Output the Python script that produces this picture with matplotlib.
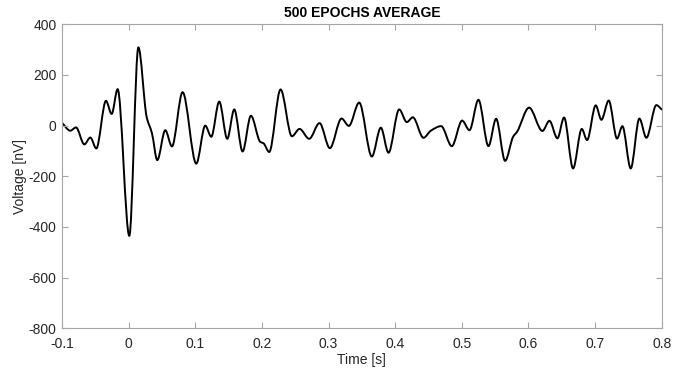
import numpy as np
import matplotlib
matplotlib.use("Agg")
import matplotlib.pyplot as plt
from matplotlib.path import Path
from matplotlib.patches import PathPatch

plt.rcParams['font.family'] = ['Liberation Sans', 'DejaVu Sans']
plt.rcParams['axes.unicode_minus'] = False

# Turning points (and shoulders) of the averaged signal
time_s = [-0.1, -0.0875, -0.079, -0.0665, -0.0575, -0.0485, -0.034, -0.0255, -0.0165,
          0.001, 0.0146, 0.027, 0.035, 0.043, 0.055, 0.065, 0.081, 0.1015, 0.115,
          0.124, 0.136, 0.148, 0.1585, 0.171, 0.1835, 0.1975, 0.2025, 0.211, 0.228,
          0.245, 0.2565, 0.271, 0.2865, 0.302, 0.3195, 0.3305, 0.346, 0.365, 0.3785,
          0.39, 0.406, 0.4175, 0.4265, 0.4425, 0.4535, 0.469, 0.485, 0.5005, 0.5115,
          0.525, 0.54, 0.5515, 0.565, 0.577, 0.583, 0.601, 0.621, 0.6315, 0.6435,
          0.6535, 0.667, 0.68, 0.688, 0.701, 0.7095, 0.7205, 0.733, 0.741, 0.7535,
          0.7665, 0.777, 0.792, 0.8]
voltage_nv = [11, -20, -7, -74, -47, -90, 98, 46, 144,
              -435, 309, 35, -30, -136, -18, -82, 132, -150, 0,
              -44, 95, -52, 64, -102, 39, -64, -70, -104, 143,
              -42, -13, -52, 10, -89, 28, -1, 91, -122, -8,
              -107, 64, 14, 33, -48, -20, -2, -81, 20, -18,
              102, -81, 27, -139, -44, -24, 71, -21, 19, -50,
              32, -169, -13, -57, 80, 23, 99, -51, -2, -169,
              28, -48, 81, 64]

x_ticks = [-0.1, 0, 0.1, 0.2, 0.3, 0.4, 0.5, 0.6, 0.7, 0.8]
x_ticklabels = ['-0.1', '0', '0.1', '0.2', '0.3', '0.4', '0.5', '0.6', '0.7', '0.8']
y_ticks = [-800, -600, -400, -200, 0, 200, 400]
y_ticklabels = ['-800', '-600', '-400', '-200', '0', '200', '400']

fig = plt.figure(figsize=(6.86, 3.68), dpi=100)
ax = fig.add_axes([62 / 686, 1 - 328.3 / 368, (661.7 - 62) / 686, (328.3 - 24.3) / 368])

# smooth curve through the read points (monotone Hermite tangents -> cubic Bezier path)
t = np.asarray(time_s, float)
v = np.asarray(voltage_nv, float)
d = np.diff(v) / np.diff(t)
m = np.zeros_like(v)
for i in range(1, len(v) - 1):
    if d[i - 1] * d[i] > 0:
        m[i] = 2 * d[i - 1] * d[i] / (d[i - 1] + d[i])
m[0] = d[0]
m[-1] = d[-1]
verts = [(t[0], v[0])]
codes = [Path.MOVETO]
for i in range(len(t) - 1):
    h = t[i + 1] - t[i]
    verts += [(t[i] + h / 3, v[i] + m[i] * h / 3),
              (t[i + 1] - h / 3, v[i + 1] - m[i + 1] * h / 3),
              (t[i + 1], v[i + 1])]
    codes += [Path.CURVE4] * 3
ax.add_patch(PathPatch(Path(verts, codes), fill=False, edgecolor='black', lw=1.4,
                       capstyle='round', joinstyle='round'))

ax.set_xlim(-0.1, 0.8)
ax.set_ylim(-800, 400)
ax.set_xticks(x_ticks)
ax.set_xticklabels(x_ticklabels)
ax.set_yticks(y_ticks)
ax.set_yticklabels(y_ticklabels)

spine_col = '#a6a6a6'
for s in ax.spines.values():
    s.set_color(spine_col)
    s.set_linewidth(0.8)
ax.tick_params(direction='in', length=4, width=0.8, color=spine_col,
               top=True, right=True, labelsize=10, labelcolor='#262626')
ax.tick_params(axis='x', pad=6)
ax.tick_params(axis='y', pad=4)

ax.set_xlabel('Time [s]', fontsize=10, color='#262626', labelpad=2)
ax.set_ylabel('Voltage [nV]', fontsize=10, color='#262626', labelpad=1)
ax.set_title('500 EPOCHS AVERAGE', fontsize=10, fontweight='bold', color='black', pad=5)

fig.savefig('out.png', dpi=100)
